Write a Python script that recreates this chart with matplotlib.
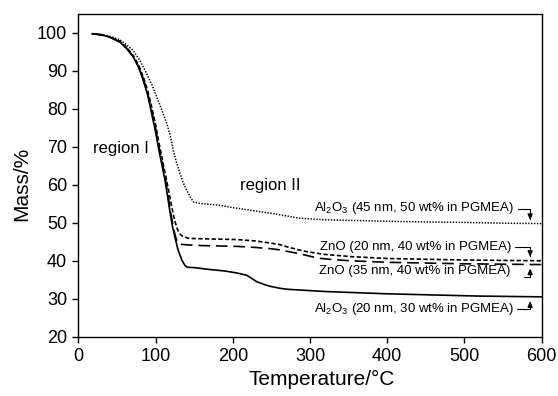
import matplotlib
matplotlib.use("Agg")
from matplotlib import pyplot as plt

plt.rcParams["font.family"] = ["Liberation Sans", "DejaVu Sans"]
plt.rcParams["mathtext.default"] = "regular"

# Al2O3 (20 nm, 30 wt%) - solid
temp_al20 = [18, 30, 42, 54, 63, 71, 78, 84, 90, 95, 100, 104, 108, 112, 116, 119, 122,
             125, 129, 134, 138, 141, 150, 170, 190, 205, 218, 225, 231, 240, 248, 260,
             270, 287, 320, 360, 400, 459, 520, 600]
mass_al20 = [99.8, 99.5, 98.8, 97.6, 95.8, 93.7, 91.0, 87.6, 83.5, 78.8, 74.0, 69.5, 65.5,
             61.5, 56.5, 52.5, 49.0, 46.3, 43.0, 40.2, 38.8, 38.3, 38.2, 37.7, 37.3, 36.8,
             36.2, 35.3, 34.5, 33.8, 33.3, 32.8, 32.5, 32.3, 31.9, 31.6, 31.3, 31.0, 30.7,
             30.5]

# ZnO (35 nm, 40 wt%) - long dashes
temp_zn35 = [18, 30, 42, 54, 63, 71, 78, 84, 90, 95, 100, 104, 108, 112, 116, 119, 122,
             125, 127.5, 130, 140, 160, 205, 230, 248, 260, 270, 283, 296, 310, 330, 353,
             400, 450, 500, 550, 600]
mass_zn35 = [99.8, 99.5, 98.8, 97.6, 95.9, 93.8, 91.2, 88.0, 84.0, 79.5, 75.0, 70.5, 66.5,
             62.5, 57.5, 53.5, 50.0, 47.0, 45.3, 44.4, 44.2, 44.0, 43.8, 43.5, 43.2, 42.9,
             42.5, 42.0, 41.4, 40.7, 40.3, 40.0, 39.6, 39.4, 39.2, 39.1, 39.0]

# ZnO (20 nm, 40 wt%) - short dashes
temp_zn20 = [18, 30, 42, 54, 63, 71, 78, 84, 90, 95, 100, 104, 108, 112, 116, 119, 122,
             125, 128, 131, 134, 137, 140, 143, 160, 180, 205, 230, 248, 260, 270, 283,
             296, 318, 353, 400, 450, 500, 550, 600]
mass_zn20 = [99.8, 99.5, 98.9, 97.8, 96.1, 94.1, 91.6, 88.5, 84.7, 80.5, 76.0, 71.5, 67.5,
             63.5, 59.5, 56.3, 53.2, 50.5, 48.5, 47.2, 46.6, 46.3, 46.1, 45.9, 45.8, 45.7,
             45.6, 45.2, 44.7, 44.3, 43.7, 43.0, 42.4, 41.7, 41.1, 40.6, 40.4, 40.2, 40.1,
             40.0]

# Al2O3 (45 nm, 50 wt%) - dotted
temp_al45 = [18, 30, 42, 54, 63, 71, 80, 88.5, 95, 101.5, 108, 114.5, 119, 123, 127, 131.7,
             136, 140.3, 145, 149, 157.6, 180, 200, 223, 250, 287, 320, 360, 400, 459, 500,
             550, 600]
mass_al45 = [99.8, 99.6, 99.1, 98.2, 96.8, 95.4, 92.7, 89.3, 86.5, 83.2, 79.8, 76.2, 73.0,
             69.1, 66.0, 63.0, 60.5, 58.6, 56.8, 55.5, 55.1, 54.7, 54.0, 53.3, 52.5, 51.2,
             50.8, 50.6, 50.4, 50.2, 50.1, 49.9, 49.8]

x_ticks = [0, 100, 200, 300, 400, 500, 600]
y_ticks = [20, 30, 40, 50, 60, 70, 80, 90, 100]

fig = plt.figure(figsize=(5.58, 3.96), dpi=100)
ax = fig.add_axes([0.1403, 0.1497, 0.8305, 0.815])

ax.plot(temp_al20, mass_al20, color="black", lw=1.2)
ax.plot(temp_zn35, mass_zn35, color="black", lw=1.2, dashes=(7, 3.5))
ax.plot(temp_zn20, mass_zn20, color="black", lw=1.2, dashes=(2.6, 1.4))
ax.plot(temp_al45, mass_al45, color="black", lw=1.1, dashes=(0.9, 1.0))

ax.set_xlim(0, 600)
ax.set_ylim(20, 105)
ax.set_xticks(x_ticks)
ax.set_yticks(y_ticks)
ax.tick_params(direction="out", length=4, width=1, labelsize=13, pad=4)
for sp in ax.spines.values():
    sp.set_linewidth(1.0)

ax.set_xlabel("Temperature/°C", fontsize=15, x=0.525)
ax.set_ylabel("Mass/%", fontsize=15, y=0.475)

ax.text(19, 69.7, "region I", fontsize=12, va="center")
ax.text(209, 59.7, "region II", fontsize=12, va="center")

# curve labels with bent arrows
labels = [
    ("Al$_2$O$_3$ (45 nm, 50 wt% in PGMEA)", (565, 53.8), (569, 53.6), (585, 50.7)),
    ("ZnO (20 nm, 40 wt% in PGMEA)", (561, 43.7), (566, 43.7), (585, 41.0)),
    ("ZnO (35 nm, 40 wt% in PGMEA)", (559, 37.3), (577, 35.8), (585, 38.0)),
    ("Al$_2$O$_3$ (20 nm, 30 wt% in PGMEA)", (565, 27.4), (568, 27.3), (585, 29.4)),
]
for text, pos, start, tip in labels:
    ax.text(pos[0], pos[1], text, fontsize=9.5, ha="right", va="center")
    ax.annotate("", xy=tip, xytext=start,
                arrowprops=dict(arrowstyle="-|>,head_length=0.35,head_width=0.15",
                                color="black", lw=0.8, shrinkA=0, shrinkB=0,
                                connectionstyle="angle,angleA=0,angleB=90,rad=0"))

fig.savefig("out.png", dpi=100)
